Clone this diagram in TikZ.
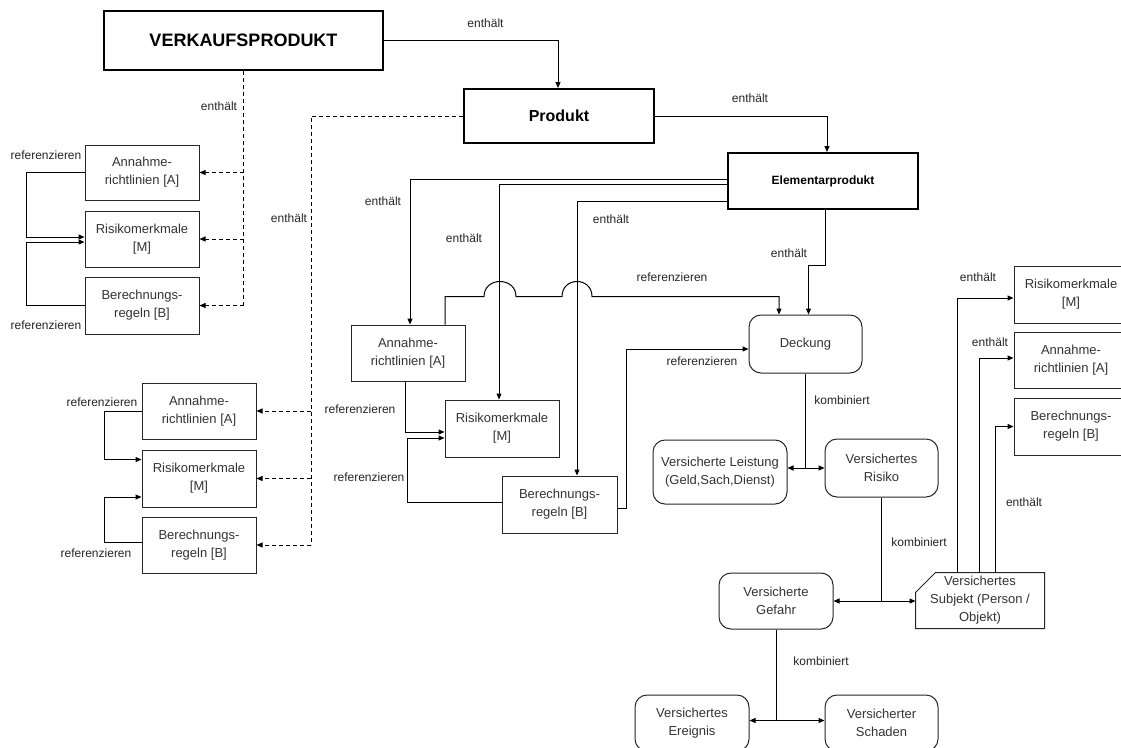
\documentclass[tikz,border=0pt]{standalone}
\usepackage{fontspec}
\setmainfont{Liberation Sans}
\usetikzlibrary{arrows.meta,calc}
\tikzset{
  arr/.style={-{Triangle[length=6pt,width=5pt]}},
  box/.style={draw=black!85, line width=1pt, minimum width=114pt, minimum height=56pt, inner sep=0pt, align=center, font=\fontsize{13}{18}\selectfont, text=black!80},
  rbox/.style={box, rounded corners=12pt},
  bigbox/.style={draw=black, inner sep=0pt, align=center, text=black},
  lbl/.style={font=\fontsize{12}{13}\selectfont, inner sep=0pt, text=black!85},
  dsh/.style={dash pattern=on 4pt off 3pt},
}
\begin{document}
\begin{tikzpicture}[x=1pt,y=-1pt,line width=1pt]
\clip (0,0) rectangle (1121,747);
\fill[white] (0,0) rectangle (1121,747);

% main boxes
\node[bigbox, line width=2.5pt, minimum width=279pt, minimum height=59pt, font=\bfseries\fontsize{18}{20}\selectfont] (vk) at (243.5,40.5) {VERKAUFSPRODUKT};
\node[bigbox, line width=2pt, minimum width=190pt, minimum height=54pt, font=\bfseries\fontsize{16}{18}\selectfont] (prod) at (559,116) {Produkt};
\node[bigbox, line width=2pt, minimum width=190pt, minimum height=56pt, font=\bfseries\fontsize{12}{14}\selectfont] (elem) at (823,181) {Elementarprodukt};

% group 1
\node[box, minimum height=55pt] (a1) at (142,172.5) {Annahme-\\richtlinien [A]};
\node[box] (m1) at (142,239) {Risikomerkmale\\{[M]}};
\node[box, minimum height=57pt] (b1) at (142,305.5) {Berechnungs-\\regeln [B]};
% group 2
\node[box] (a4) at (199,411) {Annahme-\\richtlinien [A]};
\node[box, minimum height=57pt] (m4) at (199,478.5) {Risikomerkmale\\{[M]}};
\node[box] (b4) at (199,545) {Berechnungs-\\regeln [B]};
% middle group
\node[box] (a2) at (408,353) {Annahme-\\richtlinien [A]};
\node[box, minimum height=57pt] (m2) at (502,428.5) {Risikomerkmale\\{[M]}};
\node[box, minimum width=115pt, minimum height=57pt] (b2) at (559.5,504.5) {Berechnungs-\\regeln [B]};
% right group
\node[box, minimum height=57pt] (m3) at (1071,294.5) {Risikomerkmale\\{[M]}};
\node[box] (a3) at (1071,360) {Annahme-\\richtlinien [A]};
\node[box, minimum height=57pt] (b3) at (1071,426.5) {Berechnungs-\\regeln [B]};

% rounded boxes
\node[rbox, minimum width=113pt, minimum height=58pt] (deck) at (805.5,344) {Deckung};
\node[rbox, minimum width=134pt, minimum height=64pt] (leist) at (720,472) {Versicherte Leistung\\(Geld,Sach,Dienst)};
\node[rbox, minimum width=113pt, minimum height=58pt] (risk) at (881.5,468) {Versichertes\\Risiko};
\node[rbox] (gef) at (776,601) {Versicherte\\Gefahr};
\node[rbox] (ereig) at (692,723) {Versichertes\\Ereignis};
\node[rbox, minimum width=113pt] (schad) at (881.5,723) {Versicherter\\Schaden};
\node[box, draw=none, minimum width=128pt, minimum height=55pt] (subj) at (980,600.5) {Versichertes\\Subjekt (Person /\\Objekt)};
\draw[draw=black!85] ($(subj.north west)+(20,0)$) -- (subj.north east) -- (subj.south east) -- (subj.south west) -- ($(subj.north west)+(0,20)$) -- cycle;

% VK -> Produkt
\draw[arr] (vk.east) -| ([xshift=-1pt]prod.north);
\node[lbl] (t1) at (485.5,23) {enthält};

% VK dashed to group 1
\coordinate (vkb) at (vk.south |- b1.east);
\draw[dsh] (vk.south) -- (vkb);
\draw[dsh,arr] (vk.south |- a1.east) -- (a1.east);
\draw[dsh,arr] (vk.south |- m1.east) -- (m1.east);
\draw[dsh,arr] (vkb) -- (b1.east);
\node[lbl] (t2) at (219,106) {enthält};

% Produkt dashed to group 2
\path (prod.west) -- ++(-152,0) coordinate (pd);
\draw[dsh] (prod.west) -- (pd) -- (pd |- b4.east);
\draw[dsh,arr] (pd |- a4.east) -- (a4.east);
\draw[dsh,arr] (pd |- m4.east) -- (m4.east);
\draw[dsh,arr] (pd |- b4.east) -- (b4.east);
\node[lbl] (t3) at (289,218) {enthält};

% group 1 loops
\draw[arr] (a1.west) -- ++(-58,0) |- ([yshift=2pt]m1.west);
\draw[arr] (b1.west) -- ++(-58,0) |- ([yshift=-3pt]m1.west);
\node[lbl] (r1) at (46,155) {referenzieren};
\node[lbl] (r2) at (46,325) {referenzieren};

% group 2 loops
\draw[arr] (a4.west) -- ++(-37,0) |- ([yshift=19pt]m4.west);
\draw[arr] ([yshift=3pt]b4.west) -- ++(-37,0) |- ([yshift=-18.5pt]m4.west);
\node[lbl] (r3) at (102,402) {referenzieren};
\node[lbl] (r4) at (96,553) {referenzieren};

% Produkt -> Elementar
\draw[arr] (prod.east) -| ([xshift=4pt]elem.north);
\node[lbl] (t4) at (750,98) {enthält};

% Elementar -> middle group
\draw[arr] ([yshift=2pt]elem.west) -| ([xshift=2pt]a2.north);
\draw[arr] ([yshift=-3pt]elem.west) -| ([xshift=-3pt]m2.north);
\draw[arr] ([yshift=-20pt]elem.west) -| ([xshift=17.5pt]b2.north);
\node[lbl] (t5) at (383,201) {enthält};
\node[lbl] (t6) at (464,238) {enthält};
\node[lbl] (t7) at (611,219) {enthält};

% Elementar -> Deckung
\draw[arr] ([xshift=2pt]elem.south) -- ++(0,55) -| ([xshift=3pt]deck.north);
\node[lbl] (t8) at (789,253) {enthält};

% Annahme (middle) -> Deckung with line jumps
\draw[arr] ([xshift=37pt]a2.north) -- ++(0,-28) -- ++(39,0)
  .. controls +(0,-20) and +(0,-20) .. ++(32,0) -- ++(46,0)
  .. controls +(0,-20) and +(0,-20) .. ++(30,0) -- ++(187,0)
  -- ([xshift=-26.5pt]deck.north);
\node[lbl] (r5) at (672,277) {referenzieren};

% Berechnungsregeln (middle) -> Deckung
\draw[arr] ([yshift=-3.5pt]b2.east) -- ++(9,0) |- ([yshift=-5pt]deck.west);
\node[lbl] (r6) at (702,361) {referenzieren};

% middle loops
\draw[arr] ([xshift=-3pt]a2.south) |- ([yshift=-3.5pt]m2.west);
\draw[arr] ([yshift=2.5pt]b2.west) -- ++(-94,0) |- ([yshift=-9.5pt]m2.west);
\node[lbl] (r7) at (360,409) {referenzieren};
\node[lbl] (r8) at (369,477) {referenzieren};

% Deckung kombiniert
\coordinate (k1) at (deck.south |- risk.west);
\draw (deck.south) -- (k1);
\draw[arr] (k1) -- (k1 -| leist.east);
\draw[arr] (k1) -- (risk.west);
\node[lbl] (c1) at (842,400) {kombiniert};

% Risiko kombiniert
\coordinate (k2) at (risk.south |- gef.east);
\draw (risk.south) -- (k2);
\draw[arr] (k2) -- (gef.east);
\draw[arr] (k2) -- (k2 -| subj.west);
\node[lbl] (c2) at (919,542) {kombiniert};

% Gefahr kombiniert
\path (gef.south) -- ++(0,91) coordinate (k3);
\draw (gef.south) -- (k3);
\draw[arr] (k3) -- (k3 -| ereig.east);
\draw[arr] (k3) -- (k3 -| schad.west);
\node[lbl] (c3) at (821,661) {kombiniert};

% Subjekt -> right group
\draw[arr] ([xshift=-23pt]subj.north) |- ([yshift=-3.5pt]m3.west);
\draw[arr] ([xshift=-1pt]subj.north) |- ([yshift=2pt]a3.west);
\draw[arr] ([xshift=15pt]subj.north) |- (b3.west);
\node[lbl] (t9) at (978,277) {enthält};
\node[lbl] (t10) at (990,342) {enthält};
\node[lbl] (t11) at (1024,502) {enthält};
\end{tikzpicture}
\end{document}
